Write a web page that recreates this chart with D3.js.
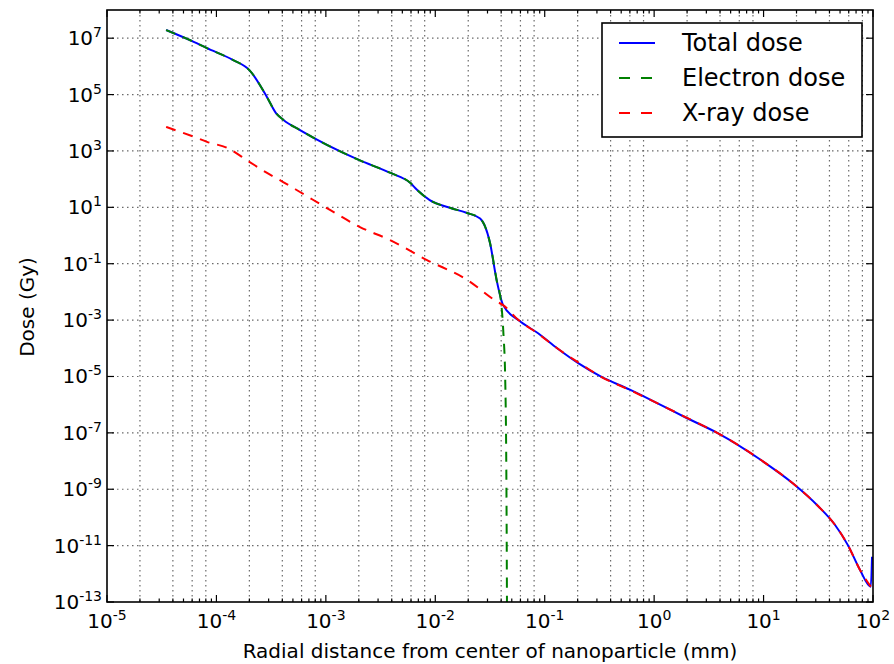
<!DOCTYPE html>
<html>
<head>
<meta charset="utf-8">
<script src="https://cdn.jsdelivr.net/npm/d3@7"></script>
<style>
  body { margin: 0; background: #fff; }
  text { font-family: "DejaVu Sans", sans-serif; fill: #000; }
</style>
</head>
<body>
<svg id="chart" width="894" height="664"></svg>
<script>
// Radial distance (mm) and dose (Gy)
var totalX = [3.47e-5, 6.2e-5, 8.1e-5, 1.41e-4, 2.0e-4, 2.9e-4, 3.5e-4, 4.1e-4, 5.8e-4,
  2.0e-3, 3.9e-3, 5.9e-3, 6.8e-3, 8.9e-3, 1.38e-2, 1.95e-2, 2.57e-2, 3.16e-2, 3.63e-2, 4.17e-2,
  0.0575, 0.087, 0.13, 0.204, 0.324, 0.6, 1.135, 2.0, 3.77,
  9.77, 18.6, 31.6, 44.7, 59.3, 75.9, 95.5, 98];
var totalY = [1.95e7, 7.4e6, 4.5e6, 1.7e6, 7.4e5, 8.1e4, 2.2e4, 1.26e4, 5.5e3,
  480, 166, 74, 42, 18, 9.5, 6.3, 4.0, 0.55, 0.027, 3.4e-3,
  1.0e-3, 3.4e-4, 1.0e-4, 2.9e-5, 1.0e-5, 3.4e-6, 1.0e-6, 3.3e-7, 1.0e-7,
  1.0e-8, 1.6e-9, 2.5e-10, 5.6e-11, 1.0e-11, 1.4e-12, 3.5e-13, 4e-12];

var electronX = [3.47e-5, 6.2e-5, 8.1e-5, 1.41e-4, 2.0e-4, 2.9e-4, 3.5e-4, 4.1e-4, 5.8e-4,
  2.0e-3, 3.9e-3, 5.9e-3, 6.8e-3, 8.9e-3, 1.38e-2, 1.95e-2, 2.57e-2, 3.16e-2, 3.63e-2,
  4.05e-2, 4.2e-2, 4.35e-2, 4.47e-2, 4.53e-2];
var electronY = [1.95e7, 7.4e6, 4.5e6, 1.7e6, 7.4e5, 8.1e4, 2.2e4, 1.26e4, 5.5e3,
  480, 166, 74, 42, 18, 9.5, 6.3, 4.0, 0.55, 0.027,
  2.5e-3, 3e-4, 1e-5, 1e-9, 1e-14];

var xrayX = [3.47e-5, 6.2e-5, 8.2e-5, 1.25e-4, 2.0e-4, 2.9e-4, 4.07e-4, 5.8e-4,
  1.09e-3, 2.05e-3, 3.86e-3, 8.4e-3, 1.95e-2, 3.67e-2, 4.17e-2,
  0.0575, 0.087, 0.13, 0.204, 0.324, 0.6, 1.135, 2.0, 3.77,
  9.77, 18.6, 31.6, 44.7, 59.3, 75.9, 95.5];
var xrayY = [7.1e3, 3.2e3, 2.1e3, 1.29e3, 410, 166, 79, 35,
  8.1, 2.0, 0.69, 0.135, 0.027, 4.5e-3, 3.4e-3,
  1.0e-3, 3.3e-4, 1.0e-4, 3.1e-5, 1.0e-5, 3.3e-6, 1.0e-6, 3.4e-7, 1.0e-7,
  1.0e-8, 1.6e-9, 2.5e-10, 5.6e-11, 1.0e-11, 1.4e-12, 3.5e-13];

var xTickExp = [-5, -4, -3, -2, -1, 0, 1, 2];
var yTickExp = [7, 5, 3, 1, -1, -3, -5, -7, -9, -11, -13];
var seriesNames = ["Total dose", "Electron dose", "X-ray dose"];

// plot frame
var plotLeft = 107, plotRight = 873, plotTop = 10, plotBottom = 602;

var svg = d3.select("svg#chart");

var x = d3.scaleLog().domain([1e-5, 1e2]).range([plotLeft, plotRight]);
var y = d3.scaleLog().domain([1e-13, 1e8]).range([plotBottom, plotTop]);

// minor positions 2,4,6,8 per decade for the vertical grid, 2..9 for ticks
var gridX = [], minorX = [];
for (var e = -5; e < 2; e++) {
  [2, 4, 6, 8].forEach(m => gridX.push(m * Math.pow(10, e)));
  for (var m = 2; m < 10; m++) minorX.push(m * Math.pow(10, e));
}

var grid = svg.append("g")
  .attr("stroke", "#6a6a6a")
  .attr("stroke-width", 1.2)
  .attr("stroke-dasharray", "1.5,3.5");

grid.selectAll("line.gx").data(gridX).enter().append("line")
  .attr("x1", d => x(d)).attr("x2", d => x(d))
  .attr("y1", plotTop).attr("y2", plotBottom);

grid.selectAll("line.gy").data(yTickExp.filter(d => d > -13)).enter().append("line")
  .attr("x1", plotLeft).attr("x2", plotRight)
  .attr("y1", d => y(Math.pow(10, d))).attr("y2", d => y(Math.pow(10, d)));

// clip for the curves
svg.append("clipPath").attr("id", "plotClip")
  .append("rect").attr("x", plotLeft).attr("y", plotTop)
  .attr("width", plotRight - plotLeft).attr("height", plotBottom - plotTop);

function pairs(xs, ys) {
  return xs.map((v, i) => [v, ys[i]]);
}

var line = d3.line()
  .x(d => x(d[0]))
  .y(d => y(d[1]))
  .curve(d3.curveMonotoneX);

var curves = svg.append("g").attr("clip-path", "url(#plotClip)").attr("fill", "none");

curves.append("path")
  .attr("d", line(pairs(totalX, totalY)))
  .attr("stroke", "#0000ff")
  .attr("stroke-width", 2);

curves.append("path")
  .attr("d", line(pairs(electronX, electronY)))
  .attr("stroke", "#008000")
  .attr("stroke-width", 2)
  .attr("stroke-dasharray", "10,8");

curves.append("path")
  .attr("d", line(pairs(xrayX, xrayY)))
  .attr("stroke", "#ff0000")
  .attr("stroke-width", 2)
  .attr("stroke-dasharray", "10,8");

// ticks, pointing inward on all four sides
var ticks = svg.append("g").attr("stroke", "#000").attr("stroke-width", 1.2);

ticks.selectAll("line.xmaj").data(xTickExp).enter().append("line")
  .attr("x1", d => x(Math.pow(10, d))).attr("x2", d => x(Math.pow(10, d)))
  .attr("y1", plotBottom).attr("y2", plotBottom - 7);
ticks.selectAll("line.xmajt").data(xTickExp).enter().append("line")
  .attr("x1", d => x(Math.pow(10, d))).attr("x2", d => x(Math.pow(10, d)))
  .attr("y1", plotTop).attr("y2", plotTop + 7);
ticks.selectAll("line.xmin").data(minorX).enter().append("line")
  .attr("x1", d => x(d)).attr("x2", d => x(d))
  .attr("y1", plotBottom).attr("y2", plotBottom - 3.5);
ticks.selectAll("line.xmint").data(minorX).enter().append("line")
  .attr("x1", d => x(d)).attr("x2", d => x(d))
  .attr("y1", plotTop).attr("y2", plotTop + 3.5);
ticks.selectAll("line.ymaj").data(yTickExp).enter().append("line")
  .attr("x1", plotLeft).attr("x2", plotLeft + 7)
  .attr("y1", d => y(Math.pow(10, d))).attr("y2", d => y(Math.pow(10, d)));
ticks.selectAll("line.ymajr").data(yTickExp).enter().append("line")
  .attr("x1", plotRight).attr("x2", plotRight - 7)
  .attr("y1", d => y(Math.pow(10, d))).attr("y2", d => y(Math.pow(10, d)));

// frame
svg.append("rect")
  .attr("x", plotLeft).attr("y", plotTop)
  .attr("width", plotRight - plotLeft).attr("height", plotBottom - plotTop)
  .attr("fill", "none").attr("stroke", "#000").attr("stroke-width", 1.6);

// tick labels as 10 with a superscript exponent
function powerLabel(sel) {
  sel.append("tspan").text("10");
  sel.append("tspan").attr("font-size", 14).attr("dy", -8).text(d => String(d));
}

svg.selectAll("text.xlab").data(xTickExp).enter().append("text")
  .attr("class", "xlab")
  .attr("x", d => x(Math.pow(10, d)))
  .attr("y", 628)
  .attr("text-anchor", "middle")
  .attr("font-size", 20)
  .call(powerLabel);

svg.selectAll("text.ylab").data(yTickExp).enter().append("text")
  .attr("class", "ylab")
  .attr("x", 102)
  .attr("y", d => y(Math.pow(10, d)) + 7)
  .attr("text-anchor", "end")
  .attr("font-size", 20)
  .call(powerLabel);

// axis titles
svg.append("text")
  .attr("x", (plotLeft + plotRight) / 2)
  .attr("y", 658)
  .attr("text-anchor", "middle")
  .attr("font-size", 20)
  .text("Radial distance from center of nanoparticle (mm)");

svg.append("text")
  .attr("transform", "translate(34,307) rotate(-90)")
  .attr("text-anchor", "middle")
  .attr("font-size", 20)
  .text("Dose (Gy)");

// legend
var legend = svg.append("g");
legend.append("rect")
  .attr("x", 602).attr("y", 23)
  .attr("width", 260).attr("height", 114)
  .attr("fill", "#fff").attr("stroke", "#000").attr("stroke-width", 1.6);

var legColors = ["#0000ff", "#008000", "#ff0000"];
var legDash = [null, "11,11", "11,11"];

var rows = legend.selectAll("g.row").data(seriesNames).enter().append("g")
  .attr("class", "row")
  .attr("transform", (d, i) => "translate(0," + (43 + i * 35) + ")");

rows.append("line")
  .attr("x1", 619).attr("x2", 655)
  .attr("y1", 0).attr("y2", 0)
  .attr("stroke", (d, i) => legColors[i])
  .attr("stroke-width", 2)
  .attr("stroke-dasharray", (d, i) => legDash[i]);

rows.append("text")
  .attr("x", 682)
  .attr("y", 8)
  .attr("font-size", 24)
  .text(d => d);
</script>
</body>
</html>
